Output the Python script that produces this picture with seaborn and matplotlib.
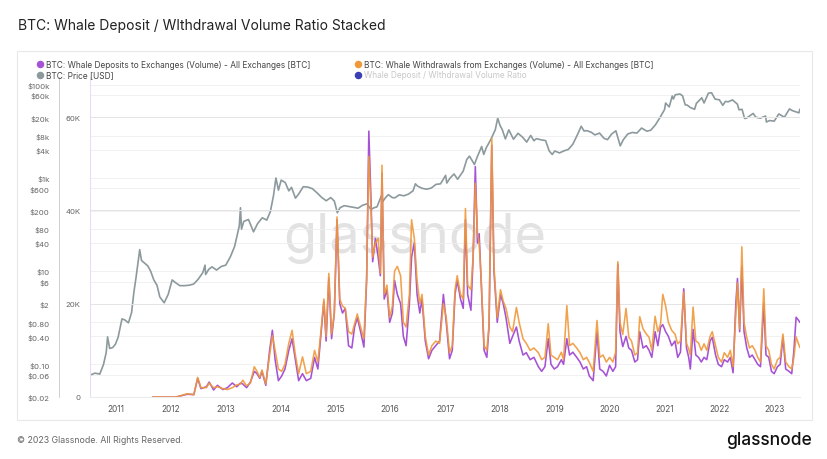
import matplotlib
matplotlib.use("Agg")
import matplotlib.pyplot as plt
from matplotlib.lines import Line2D
from matplotlib.patches import Rectangle
from matplotlib.ticker import FixedLocator, FixedFormatter, NullLocator
import numpy as np
import pandas as pd
import seaborn as sns

TITLE = "BTC: Whale Deposit / WIthdrawal Volume Ratio Stacked"
FOOTER = "\u00a9 2023 Glassnode. All Rights Reserved."
LOGO = "glassnode"

LABEL_DEP = "BTC: Whale Deposits to Exchanges (Volume) - All Exchanges [BTC]"
LABEL_WD = "BTC: Whale Withdrawals from Exchanges (Volume) - All Exchanges [BTC]"
LABEL_PRICE = "BTC: Price [USD]"
LABEL_RATIO = "Whale Deposit / WIthdrawal Volume Ratio"

# BTC price (USD)
price_dates = [
    "2010-07-18", "2010-08-15", "2010-09-15", "2010-10-10", "2010-10-28", "2010-11-06", "2010-11-20",
    "2010-12-10", "2010-12-28", "2011-01-15", "2011-02-10", "2011-03-01", "2011-03-25", "2011-04-15",
    "2011-04-30", "2011-05-15", "2011-06-08", "2011-06-20", "2011-07-10", "2011-08-01", "2011-08-20",
    "2011-09-10", "2011-10-01", "2011-10-20", "2011-11-18", "2011-12-15", "2012-01-10", "2012-02-01",
    "2012-03-01", "2012-04-01", "2012-05-01", "2012-06-01", "2012-07-01", "2012-08-01", "2012-08-16",
    "2012-08-20", "2012-09-10", "2012-10-01", "2012-11-01", "2012-12-01", "2013-01-01", "2013-02-01",
    "2013-03-01", "2013-04-01", "2013-04-09", "2013-04-16", "2013-05-01", "2013-06-01", "2013-07-05",
    "2013-08-01", "2013-09-01", "2013-10-01", "2013-10-25", "2013-11-15", "2013-12-01", "2013-12-18",
    "2014-01-05", "2014-02-01", "2014-02-25", "2014-03-15", "2014-04-10", "2014-05-01", "2014-06-01",
    "2014-07-01", "2014-08-01", "2014-09-01", "2014-10-01", "2014-11-01", "2014-12-01", "2014-12-25",
    "2015-01-14", "2015-02-01", "2015-03-01", "2015-04-01", "2015-05-01", "2015-06-01", "2015-07-01",
    "2015-08-01", "2015-08-25", "2015-09-15", "2015-10-05", "2015-11-04", "2015-11-12", "2015-12-01",
    "2015-12-20", "2016-01-15", "2016-02-01", "2016-03-01", "2016-04-01", "2016-05-01", "2016-06-01",
    "2016-06-17", "2016-07-01", "2016-08-01", "2016-09-01", "2016-10-01", "2016-11-01", "2016-12-01",
    "2017-01-04", "2017-01-12", "2017-02-01", "2017-03-01", "2017-03-25", "2017-04-15", "2017-05-01",
    "2017-05-25", "2017-06-12", "2017-07-15", "2017-08-01", "2017-09-01", "2017-09-15", "2017-10-01",
    "2017-11-01", "2017-12-01", "2017-12-17", "2018-01-01", "2018-01-16", "2018-02-06", "2018-03-01",
    "2018-04-01", "2018-05-01", "2018-06-01", "2018-06-28", "2018-07-25", "2018-08-15", "2018-09-01",
    "2018-10-01", "2018-11-01", "2018-11-25", "2018-12-15", "2019-01-01", "2019-02-01", "2019-03-01",
    "2019-04-01", "2019-05-01", "2019-06-01", "2019-06-26", "2019-07-15", "2019-08-01", "2019-09-01",
    "2019-09-25", "2019-10-26", "2019-11-25", "2019-12-18", "2020-01-15", "2020-02-12", "2020-03-12",
    "2020-04-01", "2020-05-01", "2020-06-01", "2020-07-01", "2020-08-01", "2020-09-05", "2020-10-01",
    "2020-11-01", "2020-12-01", "2021-01-01", "2021-01-08", "2021-02-01", "2021-02-21", "2021-03-01",
    "2021-03-13", "2021-04-14", "2021-05-01", "2021-05-19", "2021-06-01", "2021-06-22", "2021-07-20",
    "2021-08-01", "2021-09-06", "2021-09-21", "2021-10-20", "2021-11-10", "2021-12-04", "2022-01-01",
    "2022-01-24", "2022-02-10", "2022-03-01", "2022-03-29", "2022-05-01", "2022-05-12", "2022-06-01",
    "2022-06-18", "2022-07-01", "2022-08-14", "2022-09-01", "2022-10-01", "2022-11-05", "2022-11-10",
    "2022-12-01", "2023-01-01", "2023-02-01", "2023-03-10", "2023-04-13", "2023-05-01", "2023-06-15",
    "2023-06-21",
]
price_usd = [
    0.06, 0.065, 0.062, 0.10, 0.18, 0.39, 0.22,
    0.23, 0.27, 0.38, 0.95, 0.90, 0.78, 1.3,
    3.5, 7.5, 29, 17, 15, 13, 10,
    6.5, 5.0, 2.8, 2.1, 3.2, 6.5, 5.7,
    4.9, 4.9, 5.0, 5.3, 6.7, 9.3, 13.5,
    8.5, 11.0, 12.4, 10.6, 12.6, 13.5, 20.5,
    34, 93, 230, 80, 117, 129, 70,
    105, 140, 125, 190, 420, 1000, 550,
    900, 800, 530, 630, 370, 450, 650,
    640, 590, 480, 385, 325, 380, 320,
    180, 230, 255, 245, 235, 225, 260,
    280, 210, 230, 240, 420, 310, 380,
    440, 380, 375, 435, 415, 450, 530,
    750, 670, 600, 575, 610, 730, 750,
    1140, 780, 980, 1220, 940, 1180, 1400,
    2500, 2950, 1950, 2750, 4750, 3200, 4400,
    6700, 10900, 19300, 13500, 11000, 6900, 10800,
    6800, 9100, 7500, 5900, 8200, 6300, 7000,
    6600, 6350, 3800, 3200, 3800, 3450, 3800,
    4100, 5300, 8500, 12900, 10200, 10400, 9600,
    8400, 9200, 7100, 6650, 8800, 10300, 4900,
    6600, 8800, 9500, 9200, 11800, 10100, 10600,
    13800, 19700, 29400, 40600, 33500, 57500, 49600,
    61000, 63500, 57800, 37000, 36700, 32500, 29800,
    39900, 52700, 40700, 66000, 67500, 49200, 47700,
    36200, 44000, 43200, 47400, 38500, 29000, 29800,
    19000, 19300, 24300, 20100, 19300, 21300, 15900,
    17100, 16600, 23700, 20100, 30400, 28000, 25000,
    29900,
]

# whale exchange flows, thousands of BTC
vol_year = [
    2011.67, 2012.10, 2012.30, 2012.42, 2012.49, 2012.55, 2012.65, 2012.70, 2012.78, 2012.85,
    2012.95, 2013.03, 2013.12, 2013.20, 2013.27, 2013.31, 2013.38, 2013.45, 2013.52, 2013.57,
    2013.62, 2013.66, 2013.73, 2013.80, 2013.85, 2013.90, 2013.96, 2014.02, 2014.08, 2014.15,
    2014.21, 2014.27, 2014.33, 2014.40, 2014.47, 2014.55, 2014.62, 2014.68, 2014.74, 2014.79,
    2014.83, 2014.88, 2014.93, 2014.98, 2015.03, 2015.08, 2015.13, 2015.18, 2015.24, 2015.30,
    2015.35, 2015.40, 2015.46, 2015.52, 2015.57, 2015.61, 2015.65, 2015.68, 2015.73, 2015.78,
    2015.82, 2015.85, 2015.89, 2015.94, 2015.99, 2016.04, 2016.08, 2016.13, 2016.19, 2016.24,
    2016.29, 2016.35, 2016.39, 2016.44, 2016.49, 2016.54, 2016.58, 2016.64, 2016.70, 2016.76,
    2016.83, 2016.90, 2016.97, 2017.02, 2017.08, 2017.13, 2017.18, 2017.22, 2017.28, 2017.33,
    2017.37, 2017.41, 2017.47, 2017.51, 2017.55, 2017.59, 2017.62, 2017.66, 2017.71, 2017.76,
    2017.80, 2017.85, 2017.89, 2017.95, 2018.01, 2018.06, 2018.11, 2018.18, 2018.23, 2018.30,
    2018.35, 2018.42, 2018.48, 2018.55, 2018.62, 2018.70, 2018.76, 2018.82, 2018.88, 2018.93,
    2018.99, 2019.05, 2019.12, 2019.16, 2019.22, 2019.27, 2019.33, 2019.40, 2019.46, 2019.52,
    2019.58, 2019.63, 2019.70, 2019.77, 2019.82, 2019.88, 2019.94, 2020.00, 2020.06, 2020.11,
    2020.15, 2020.19, 2020.24, 2020.30, 2020.35, 2020.40, 2020.46, 2020.51, 2020.55, 2020.61,
    2020.67, 2020.72, 2020.77, 2020.83, 2020.88, 2020.93, 2020.97, 2021.02, 2021.07, 2021.13,
    2021.19, 2021.24, 2021.29, 2021.35, 2021.40, 2021.44, 2021.47, 2021.52, 2021.57, 2021.62,
    2021.67, 2021.72, 2021.77, 2021.83, 2021.87, 2021.93, 2021.98, 2022.04, 2022.09, 2022.15,
    2022.20, 2022.25, 2022.30, 2022.33, 2022.37, 2022.41, 2022.45, 2022.50, 2022.55, 2022.60,
    2022.65, 2022.70, 2022.75, 2022.81, 2022.85, 2022.90, 2022.95, 2023.00, 2023.06, 2023.11,
    2023.16, 2023.21, 2023.27, 2023.32, 2023.36, 2023.40, 2023.44, 2023.47,
]
deposits_k = [
    0, 0, 0.6, 0.5, 4.0, 1.8, 2.2, 3.2, 1.5, 2.5,
    1.6, 2.0, 3.0, 2.2, 3.0, 2.8, 2.0, 3.2, 5.5, 5.0,
    4.0, 5.5, 2.5, 10.0, 14.3, 8.0, 3.5, 4.5, 6.0, 10.0,
    12.5, 8.0, 3.5, 5.0, 3.5, 4.0, 8.5, 6.0, 14.0, 20.5,
    12.0, 25.5, 12.5, 18.0, 38.0, 20.0, 18.0, 19.0, 11.0, 10.5,
    15.0, 17.0, 14.0, 10.7, 25.0, 57.0, 42.0, 29.0, 34.0, 30.0,
    26.0, 48.0, 21.0, 23.0, 16.0, 18.0, 25.0, 22.0, 20.0, 13.0,
    11.0, 20.0, 30.0, 33.0, 22.0, 18.0, 21.0, 12.0, 8.2, 10.0,
    11.0, 12.0, 22.0, 16.0, 8.2, 10.0, 22.0, 25.0, 21.0, 19.0,
    38.0, 22.0, 18.6, 30.0, 49.4, 33.0, 35.0, 24.0, 10.0, 8.5,
    15.0, 54.0, 27.0, 16.0, 22.0, 20.0, 17.0, 11.5, 13.0, 15.0,
    12.0, 9.0, 9.5, 8.0, 8.5, 6.5, 5.5, 6.5, 12.5, 7.0,
    6.0, 6.5, 8.0, 7.0, 12.5, 9.0, 9.6, 8.5, 7.5, 6.0,
    6.5, 4.5, 3.5, 14.0, 6.0, 5.5, 4.5, 6.8, 5.5, 6.5,
    28.5, 14.0, 10.8, 13.0, 10.5, 10.0, 7.5, 8.0, 14.0, 10.5,
    11.0, 10.0, 8.5, 14.0, 11.0, 15.0, 15.5, 14.0, 13.0, 11.0,
    12.0, 8.5, 9.6, 23.2, 10.5, 8.5, 6.0, 14.5, 9.0, 8.5,
    7.5, 8.5, 8.0, 12.0, 12.8, 9.0, 7.0, 6.5, 8.0, 7.5,
    8.5, 5.2, 20.0, 25.4, 14.0, 28.0, 14.0, 10.5, 8.5, 9.0,
    8.0, 7.0, 6.5, 20.0, 9.0, 8.5, 5.5, 5.0, 6.5, 7.0,
    12.8, 6.0, 5.5, 5.0, 10.0, 17.1, 16.5, 16.0,
]
withdrawals_k = [
    0, 0, 0.7, 0.5, 4.2, 2.0, 2.0, 3.0, 2.0, 2.2,
    1.8, 1.6, 2.0, 2.6, 2.8, 3.6, 2.4, 3.0, 6.5, 5.5,
    4.2, 5.8, 2.8, 9.0, 13.2, 10.0, 6.0, 5.5, 7.0, 11.5,
    14.3, 9.0, 5.0, 8.6, 5.0, 5.5, 10.0, 7.5, 14.5, 21.0,
    13.0, 26.5, 13.5, 18.0, 38.6, 21.0, 19.5, 19.0, 14.0, 13.5,
    15.7, 17.8, 15.0, 12.5, 25.8, 51.6, 40.0, 30.0, 33.0, 34.0,
    26.5, 49.7, 22.0, 24.0, 17.0, 19.5, 27.0, 28.0, 26.0, 16.0,
    15.0, 22.0, 38.0, 34.0, 25.0, 20.0, 22.0, 13.0, 9.0, 11.0,
    12.0, 11.5, 20.0, 17.0, 9.5, 11.0, 23.0, 26.0, 22.0, 21.0,
    40.4, 24.0, 23.0, 30.0, 45.8, 35.0, 33.0, 24.5, 11.0, 10.0,
    15.5, 55.5, 28.0, 17.0, 23.0, 20.5, 19.0, 15.0, 14.0, 19.2,
    16.0, 12.5, 11.5, 10.0, 10.5, 9.5, 8.0, 8.5, 15.7, 9.0,
    8.5, 8.0, 9.6, 8.0, 19.6, 11.0, 11.5, 10.5, 9.5, 8.0,
    8.5, 7.4, 5.5, 16.4, 8.5, 9.0, 7.5, 8.5, 7.5, 9.6,
    29.0, 16.0, 13.4, 19.0, 12.8, 12.0, 9.0, 9.5, 17.2, 14.6,
    13.5, 12.8, 10.0, 17.3, 14.0, 15.7, 22.0, 19.5, 16.0, 14.3,
    13.5, 11.4, 12.0, 22.5, 11.5, 10.3, 9.0, 19.3, 12.0, 11.6,
    10.0, 11.4, 10.0, 13.0, 14.0, 11.0, 8.5, 7.5, 9.5, 8.5,
    10.0, 6.5, 18.0, 24.5, 14.6, 32.2, 16.0, 12.7, 10.5, 11.0,
    10.0, 8.5, 7.5, 23.2, 11.0, 10.0, 7.0, 6.0, 8.0, 8.5,
    13.5, 7.5, 6.5, 6.0, 8.5, 12.9, 11.5, 10.6,
]

price_ticks = [0.02, 0.06, 0.1, 0.4, 0.8, 2, 6, 10, 40, 80, 200, 600,
               1000, 4000, 8000, 20000, 60000, 100000]
price_tick_labels = ["$0.02", "$0.06", "$0.10", "$0.40", "$0.80", "$2", "$6", "$10", "$40",
                     "$80", "$200", "$600", "$1k", "$4k", "$8k", "$20k", "$60k", "$100k"]
vol_ticks = [0, 20, 40, 60]
vol_tick_labels = ["0", "20K", "40K", "60K"]
year_ticks = list(range(2011, 2024))

C_DEP = "#a652d4"
C_WD = "#f0983a"
C_PRICE = "#8c999d"
C_RATIO = "#3a3fb5"
FONT = ["Inter", "DejaVu Sans"]


def to_dates(years):
    years = np.asarray(years, dtype=float)
    whole = np.floor(years).astype(int)
    start = pd.to_datetime([f"{y}-01-01" for y in whole])
    return start + pd.to_timedelta((years - whole) * 365.25, unit="D")


sns.set_theme(style="white")
plt.rcParams["font.family"] = FONT

price_df = pd.DataFrame({"date": pd.to_datetime(price_dates), "price": price_usd})
vol_df = pd.DataFrame({"date": to_dates(vol_year), "deposits": deposits_k, "withdrawals": withdrawals_k})

W, H = 828, 460
fig = plt.figure(figsize=(W / 100, H / 100), dpi=100, facecolor="white")

left, right, top, bottom = 90, 800, 78, 398
rect = [left / W, 1 - bottom / H, (right - left) / W, (bottom - top) / H]
ax_p = fig.add_axes(rect)
ax_v = fig.add_axes(rect)
ax_v.patch.set_alpha(0)

xlim = (pd.Timestamp("2010-07-12"), pd.Timestamp("2023-06-22"))

# price panel (log, behind)
sns.lineplot(data=price_df, x="date", y="price", ax=ax_p, color=C_PRICE, linewidth=1.2)
ax_p.set_yscale("log")
ax_p.set_ylim(0.02, 147000)
ax_p.set_xlim(*xlim)
ax_p.yaxis.set_major_locator(FixedLocator(price_ticks))
ax_p.yaxis.set_major_formatter(FixedFormatter(price_tick_labels))
ax_p.yaxis.set_minor_locator(NullLocator())
ax_p.tick_params(axis="y", length=0, pad=29, labelsize=5.6, labelcolor="#666666")
ax_p.set_xticks([])
ax_p.grid(axis="y", color="#efefef", linewidth=0.6)
for s in ax_p.spines.values():
    s.set_visible(False)
ax_p.set_xlabel("")
ax_p.set_ylabel("")
ax_p.text(0.458, 0.50, "glassnode", transform=ax_p.transAxes, ha="center", va="center",
          fontsize=39, color="#e2e2e2", family=FONT, zorder=0)

# whale flows (linear, front)
sns.lineplot(data=vol_df, x="date", y="deposits", ax=ax_v, color=C_DEP, linewidth=1.15)
sns.lineplot(data=vol_df, x="date", y="withdrawals", ax=ax_v, color=C_WD, linewidth=1.15, alpha=0.9)
ax_v.set_ylim(0, 68.6)
ax_v.set_xlim(*xlim)
ax_v.yaxis.set_major_locator(FixedLocator(vol_ticks))
ax_v.yaxis.set_major_formatter(FixedFormatter(vol_tick_labels))
ax_v.set_xticks(pd.to_datetime([f"{y}-01-01" for y in year_ticks]))
ax_v.set_xticklabels([str(y) for y in year_ticks])
ax_v.tick_params(axis="y", length=0, pad=7, labelsize=5.6, labelcolor="#666666")
ax_v.tick_params(axis="x", length=0, pad=5, labelsize=6, labelcolor="#555555")
ax_v.grid(axis="y", color="#e4e4e4", linewidth=0.7)
ax_v.set_xlabel("")
ax_v.set_ylabel("")
for name, s in ax_v.spines.items():
    s.set_visible(name in ("left", "bottom"))
ax_v.spines["left"].set_color("#eadcf3")
ax_v.spines["left"].set_linewidth(0.8)
ax_v.spines["bottom"].set_color("#ececec")
ax_v.spines["bottom"].set_linewidth(0.8)

# frame, axis divider
fig.patches.append(Rectangle((17 / W, 1 - 421 / H), 795 / W, 369 / H, transform=fig.transFigure,
                             fill=False, edgecolor="#e8e8e8", linewidth=0.8))
fig.lines.append(Line2D([59 / W, 59 / W], [1 - 398 / H, 1 - 78 / H], transform=fig.transFigure,
                        color="#cfcfcf", linewidth=0.7))

# legend
legend_items = [
    (37, 65, C_DEP, LABEL_DEP, "#444444"),
    (355, 65, C_WD, LABEL_WD, "#444444"),
    (37, 75.5, C_PRICE, LABEL_PRICE, "#444444"),
    (355, 75.5, C_RATIO, LABEL_RATIO, "#c8c8c8"),
]
for x, y, c, label, tc in legend_items:
    fig.lines.append(Line2D([(x + 3) / W], [1 - y / H], transform=fig.transFigure, marker="o",
                            markersize=4.4, color=c, linestyle="none"))
    fig.text((x + 9) / W, 1 - y / H, label, ha="left", va="center", fontsize=6.0, color=tc)

fig.text(18 / W, 1 - 26 / H, TITLE, ha="left", va="center", fontsize=10, color="#222222")
fig.text(17 / W, 1 - 441 / H, FOOTER, ha="left", va="center", fontsize=6.3, color="#666666")
fig.text(812 / W, 1 - 441 / H, LOGO, ha="right", va="center", fontsize=12.5, color="#111111",
         fontweight="medium")

fig.savefig("out.png", dpi=100, facecolor="white")
